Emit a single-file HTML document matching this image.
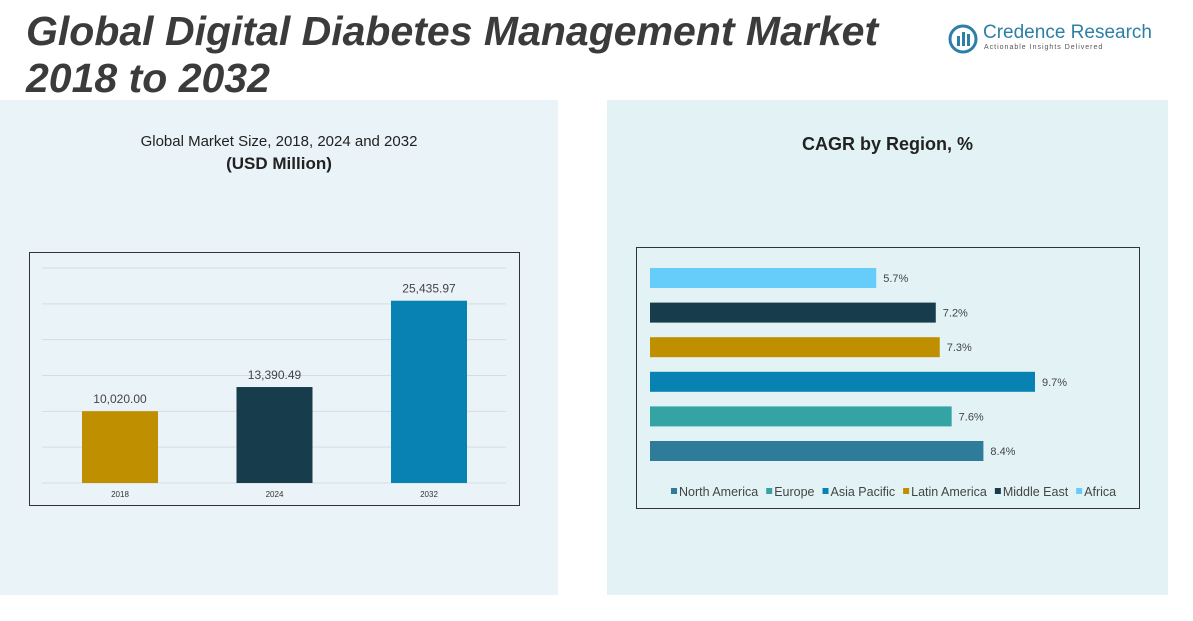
<!DOCTYPE html>
<html><head><meta charset="utf-8"><style>
body{margin:0;width:1193px;height:621px;overflow:hidden;background:#fff;font-family:"Liberation Sans",sans-serif;position:relative}
.abs{position:absolute}
</style></head><body>
<div class="abs" style="left:0;top:100px;width:558px;height:495px;background:#eaf3f8"></div>
<div class="abs" style="left:607px;top:100px;width:561px;height:495px;background:#e3f3f5"></div>
<div class="abs" style="left:26px;top:8px;font-size:41px;font-weight:bold;font-style:italic;color:#3b3b3b;line-height:47px;white-space:nowrap">Global Digital Diabetes Management Market<br>2018 to 2032</div>
<div class="abs" style="left:948px;top:22px;width:220px;height:34px;white-space:nowrap">
<svg width="30" height="30" style="position:absolute;left:0;top:2px"><circle cx="15" cy="15" r="13" fill="none" stroke="#2d7fa8" stroke-width="3"/><rect x="9" y="12" width="3" height="10" fill="#2d7fa8"/><rect x="14" y="8" width="3" height="14" fill="#2d7fa8"/><rect x="19" y="10" width="3" height="12" fill="#2d7fa8"/></svg>
<div style="position:absolute;left:35px;top:0;font-size:19px;color:#2d7fa8;white-space:nowrap">Credence Research</div>
<div style="position:absolute;left:36px;top:22px;font-size:7px;color:#555;letter-spacing:1px;white-space:nowrap">Actionable Insights Delivered</div></div>
<div class="abs" style="left:0;width:558px;top:133px;text-align:center;font-size:15px;color:#222">Global Market Size, 2018, 2024 and 2032</div>
<div class="abs" style="left:0;width:558px;top:154px;text-align:center;font-size:17px;font-weight:bold;color:#222">(USD Million)</div>
<div class="abs" style="left:607px;width:561px;top:134px;text-align:center;font-size:18px;font-weight:bold;color:#222">CAGR by Region, %</div>
<svg id="c1" class="abs" style="left:0;top:0" width="1193" height="621"></svg>
<script>
const years=["2018","2024","2032"];
const sizes=[10020.00,13390.49,25435.97];
const sizeLabels=["10,020.00","13,390.49","25,435.97"];
const yTicks=[0,5000,10000,15000,20000,25000,30000];
const regions=["Africa","Middle East","Latin America","Asia Pacific","Europe","North America"];
const cagr=[5.7,7.2,7.3,9.7,7.6,8.4];
const legendNames=["North America","Europe","Asia Pacific","Latin America","Middle East","Africa"];
const NS="http://www.w3.org/2000/svg";
const svg=document.getElementById('c1');
function mk(t,a,p){const e=document.createElementNS(NS,t);for(const k in a)e.setAttribute(k,a[k]);(p||svg).appendChild(e);return e;}
const colors={"North America":"#2e7b9a","Europe":"#34a3a3","Asia Pacific":"#0782b3","Latin America":"#bf8f00","Middle East":"#173c4b","Africa":"#66ccfa"};
const barCols=["#bf8f00","#173c4b","#0782b3"];
let f=mk('rect',{x:29.5,y:252.5,width:490,height:253,fill:"none",stroke:"#333","stroke-width":1});


const y=v=>483-v*(215/30000);
const xc=i=>120+i*154.5;
yTicks.forEach(t=>{const l=mk('line',{x1:42,x2:506,y1:y(t),y2:y(t),stroke:"#d6dde2"});

});
sizes.forEach((v,i)=>{
const r=mk('rect',{x:xc(i)-38,y:y(v),width:76,height:483-y(v),fill:barCols[i]});


const t=mk('text',{x:xc(i),y:y(v)-8,"text-anchor":"middle","font-size":12,fill:"#444"});t.textContent=sizeLabels[i];


const a=mk('text',{x:xc(i),y:497,"text-anchor":"middle","font-size":8,fill:"#333"});a.textContent=years[i];


});
f=mk('rect',{x:636.5,y:247.5,width:503,height:261,fill:"none",stroke:"#333","stroke-width":1});


const bx=v=>650+v*(385/9.7);
cagr.forEach((v,i)=>{const cy=278+i*34.6;
const r=mk('rect',{x:650,y:cy-10,width:bx(v)-650,height:20,fill:colors[regions[i]]});


const t=mk('text',{x:bx(v)+7,y:cy+4,"font-size":11,fill:"#444"});t.textContent=v.toFixed(1)+"%";

});
let lx=671;
legendNames.forEach(n=>{
const r=mk('rect',{x:lx,y:488,width:6,height:6,fill:colors[n]});


const t=mk('text',{x:lx+8,y:496,"font-size":12.5,fill:"#444"});t.textContent=n;


lx+=t.getComputedTextLength()+16;});
</script>
</body></html>
